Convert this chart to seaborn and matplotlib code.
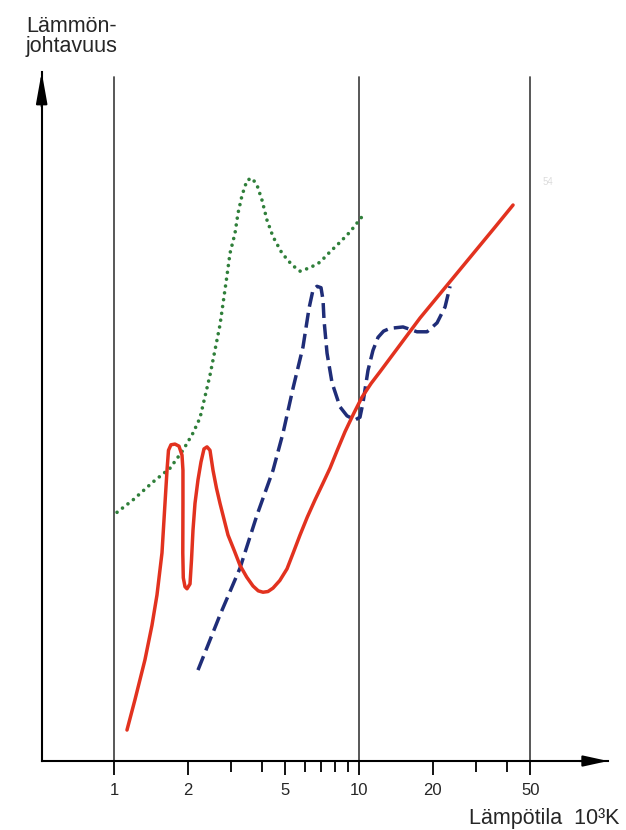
"""
Thermal conductivity vs temperature (log axis), three gases.
"""
import matplotlib
matplotlib.use("Agg")
import matplotlib.pyplot as plt
import matplotlib.ticker as ticker
import pandas as pd
import seaborn as sns

# temperature in 10^3 K, conductivity in arbitrary units (no y scale in the original)
red_t = [1.13, 1.218, 1.338, 1.429, 1.498, 1.57, 1.615, 1.646, 1.669, 1.708,
         1.774, 1.842, 1.895, 1.912, 1.912, 1.909, 1.918, 1.949, 1.986, 2.043,
         2.072, 2.101, 2.141, 2.202, 2.265, 2.33, 2.397, 2.465, 2.536, 2.62,
         2.708, 2.92, 3.1, 3.268, 3.48, 3.693, 3.88, 4.057, 4.25, 4.457,
         4.75, 5.084, 5.4, 5.744, 6.15, 6.613, 7.1, 7.613, 8.15, 8.768,
         9.5, 10.28, 11.2, 12.18, 14.7, 17.74, 22.44, 28.39, 35.91, 42.52]
red_k = [4.5, 8.9, 14.7, 19.7, 24.1, 30.2, 37.4, 42.2, 45.1, 45.9,
         46.0, 45.7, 44.4, 42.2, 37.4, 30.2, 26.6, 25.3, 25.0, 25.7,
         29.2, 33.5, 37.4, 40.8, 43.4, 45.3, 45.6, 45.1, 42.2, 39.6,
         37.4, 32.8, 30.5, 28.4, 26.7, 25.4, 24.7, 24.5, 24.6, 25.1,
         26.2, 27.9, 30.3, 32.8, 35.4, 37.9, 40.2, 42.5, 45.1, 47.8,
         50.4, 52.8, 54.8, 56.5, 60.4, 64.3, 68.7, 73.1, 77.5, 80.7]

blue_t = [2.202, 2.708, 3.268, 3.834, 4.457, 4.896, 5.378, 5.907, 6.251, 6.491,
          6.740, 6.997, 7.131, 7.197, 7.404, 7.760, 8.365, 8.933, 9.632, 10.09,
          10.38, 10.88, 11.4, 11.96, 12.6, 13.38, 15.12, 17.25, 18.95, 20.82,
          22.44, 23.52]
blue_k = [13.2, 21.2, 28.0, 35.7, 42.2, 47.6, 54.1, 60.1, 65.7, 68.4,
          68.9, 68.7, 66.9, 64.0, 59.2, 54.9, 51.4, 50.1, 49.5, 49.9,
          52.0, 56.7, 59.6, 61.5, 62.4, 62.8, 63.0, 62.3, 62.3, 63.6,
          65.9, 68.9]

green_t = [1.029, 1.196, 1.443, 1.693, 1.912, 2.101, 2.244, 2.465, 2.708, 2.893,
           2.975, 3.118, 3.207, 3.331, 3.491, 3.659, 3.834, 4.019, 4.212, 4.457,
           4.85, 5.328, 5.744, 6.31, 6.931, 7.613, 8.365, 9.19, 10.28]
green_k = [36.1, 37.9, 40.5, 42.5, 45.1, 47.6, 49.8, 56.0, 63.3, 70.5,
           73.7, 76.6, 79.5, 82.1, 84.3, 84.6, 83.6, 81.4, 78.5, 76.1,
           73.7, 72.0, 71.1, 71.6, 72.4, 73.9, 75.3, 76.8, 79.0]

major_ticks = [1, 2, 5, 10, 20, 50]
minor_ticks = [3, 4, 6, 7, 8, 9, 30, 40]
guide_lines = [1, 10, 50]

sns.set_style("white")
plt.rcParams["font.family"] = ["Liberation Sans", "DejaVu Sans"]

fig = plt.figure(figsize=(6.26, 8.30), dpi=100)
ax = fig.add_axes([0.0666, 0.0831, 0.9047, 0.8301])
ax.set_xscale("log")
ax.set_xlim(0.507, 103.8)
ax.set_ylim(0, 100)

for v in guide_lines:
    ax.axvline(v, ymin=0, ymax=0.993, color="#4a4a4a", linewidth=1.3, zorder=1)

red = pd.DataFrame({"t": red_t, "k": red_k})
blue = pd.DataFrame({"t": blue_t, "k": blue_k})
green = pd.DataFrame({"t": green_t, "k": green_k})

sns.lineplot(data=green, x="t", y="k", ax=ax, sort=False, estimator=None,
             color="#2f7f3a", linewidth=2.6, linestyle=(0, (0.01, 1.9)),
             dash_capstyle="round", zorder=3)
sns.lineplot(data=blue, x="t", y="k", ax=ax, sort=False, estimator=None,
             color="#1f2d78", linewidth=2.5, linestyle=(0, (4.3, 1.8)),
             solid_joinstyle="round", zorder=4)
sns.lineplot(data=red, x="t", y="k", ax=ax, sort=False, estimator=None,
             color="#e2321f", linewidth=2.5, solid_joinstyle="round",
             solid_capstyle="round", zorder=5)

# axes: only left and bottom, with arrow heads
for side in ["top", "right"]:
    ax.spines[side].set_visible(False)
for side in ["left", "bottom"]:
    ax.spines[side].set_color("black")
    ax.spines[side].set_linewidth(1.5)
arrow_kw = dict(color="black", lw=1.5, shrinkA=0, shrinkB=0)
ax.annotate("", xy=(0, 1), xytext=(0, 0.95), xycoords="axes fraction",
            arrowprops=dict(arrowstyle="-|>,head_length=1.9,head_width=0.34",
                            mutation_scale=10, **arrow_kw),
            annotation_clip=False)
ax.annotate("", xy=(1, 0), xytext=(0.95, 0), xycoords="axes fraction",
            arrowprops=dict(arrowstyle="-|>,head_length=1.5,head_width=0.33",
                            mutation_scale=10, **arrow_kw),
            annotation_clip=False)

ax.set_yticks([])
ax.set_xticks(major_ticks)
ax.set_xticklabels([str(t) for t in major_ticks])
ax.set_xticks(minor_ticks, minor=True)
ax.xaxis.set_minor_formatter(ticker.NullFormatter())
ax.tick_params(axis="x", which="both", bottom=True)
ax.tick_params(axis="x", which="major", direction="out", length=10, width=1.3,
               pad=6, labelsize=12, color="black")
ax.tick_params(axis="x", which="minor", direction="out", length=8, width=1.3,
               color="black")
for lab in ax.get_xticklabels():
    lab.set_family(["Liberation Sans Narrow", "Liberation Sans"])
ax.set_xlabel("")
ax.set_ylabel("")

fig.text(0.0415, 0.9614, "Lämmön-", fontsize=15.5, va="baseline", ha="left")
fig.text(0.0415, 0.9373, "johtavuus", fontsize=15.5, va="baseline", ha="left")
fig.text(0.989, 0.0072, "Lämpötila  10³K", fontsize=15.5, va="baseline", ha="right")
fig.text(0.867, 0.777, "54", fontsize=7, color="#dcdcdc")

fig.savefig("out.png", dpi=100)
